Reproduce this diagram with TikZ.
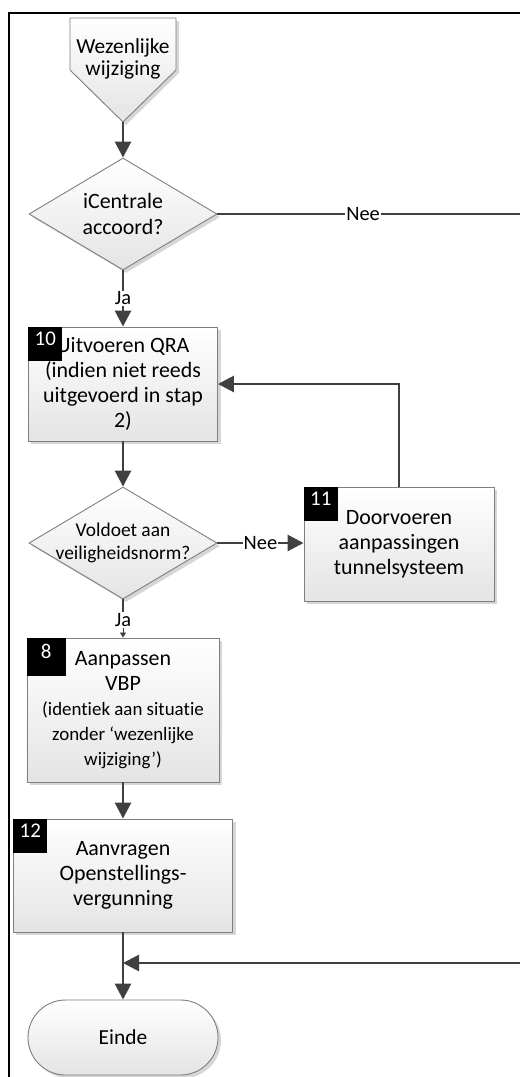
\documentclass[tikz,border=0pt]{standalone}
\usepackage{fontspec}
\setmainfont{Carlito}[Ligatures=NoCommon]
\usetikzlibrary{arrows.meta,shapes.geometric,shapes.misc,shadows}
\definecolor{conncol}{HTML}{404040}
\definecolor{bord}{HTML}{7F7F7F}
\definecolor{shadebot}{HTML}{E4E4E4}
\definecolor{shadcol}{HTML}{D6D6D6}
\newcommand{\smtxt}{\fontsize{19}{24}\selectfont}
\tikzset{
 base/.style={draw=bord, line width=0.9bp, top color=white, bottom color=shadebot,
   drop shadow={shadow xshift=3bp, shadow yshift=-3bp, fill=shadcol, opacity=1}},
 procbox/.style={base, rectangle, inner sep=0pt, align=center, font=\fontsize{22}{25}\selectfont},
 decision/.style={base, diamond, aspect=1.68, inner sep=0pt, minimum width=188bp, minimum height=112bp, align=center},
 numbox/.style={fill=black, text=white, anchor=north west, inner sep=0pt, minimum width=34bp, minimum height=34bp,
   font=\fontsize{21}{21}\selectfont, text height=8bp, text depth=5bp},
 conn/.style={draw=conncol, line width=2.8bp, -{Triangle[length=16bp,width=16bp]}},
 plainconn/.style={draw=conncol, line width=2.8bp},
 lbl/.style={fill=white, inner sep=1bp, font=\fontsize{20.5}{21}\selectfont, text=black},
}
\begin{document}
\begin{tikzpicture}[x=1bp,y=-1bp]
\useasboundingbox (0,0) rectangle (520,1077);
\fill[white] (0,0) rectangle (520,1077);
% frame
\draw[black, line width=2bp] (9,1080) -- (9,13) -- (523,13);
% start
\draw[base] (70,18) -- (176,18) -- (176,70) -- (123,122) -- (70,70) -- cycle;
\node[font=\fontsize{21.5}{22}\selectfont, align=center] (start) at (123,59) {Wezenlijke\\wijziging};
\coordinate (starttip) at (123,122);
% decisions
\node[decision, font=\fontsize{22}{26}\selectfont] (d1) at (123,214) {\makebox[80bp]{iCentrale}\\\makebox[80bp]{accoord?}};
\node[decision, font=\fontsize{19.5}{23}\selectfont] (d2) at (123,543) {\makebox[90bp]{Voldoet aan}\\\makebox[90bp]{veiligheidsnorm?}};
% boxes
\node[procbox, minimum width=189bp, minimum height=114bp] (b10) at (123,384) {Uitvoeren QRA\\(indien niet reeds\\uitgevoerd in stap\\2)};
\node[numbox] (n10) at (b10.north west) {10};
\node[procbox, minimum width=190bp, minimum height=114bp] (b11) at (399,544) {Doorvoeren\\aanpassingen\\tunnelsysteem};
\node[numbox] (n11) at (b11.north west) {11};
\node[procbox, minimum width=192bp, minimum height=144bp] (b8) at (123,710) {Aanpassen\\VBP\\\smtxt(identiek aan situatie\\\smtxt zonder ‘wezenlijke\\\smtxt wijziging’)};
\node[numbox, minimum width=39bp, minimum height=38bp] (n8) at (b8.north west) {8};
\node[procbox, minimum width=219bp, minimum height=113bp] (b12) at (123,875.5) {Aanvragen\\Openstellings-\\vergunning};
\node[numbox] (n12) at (b12.north west) {12};
\node[base, rounded rectangle, minimum width=190bp, minimum height=75bp, inner sep=0pt, font=\fontsize{21.5}{24}\selectfont] (einde) at (123,1037.5) {Einde};
% coordinates
\coordinate (offR1) at (524,214);
\coordinate (offR2) at (524,963);
\coordinate (join) at (123,963);
% connectors
\draw[conn] (starttip) -- (d1.north);
\draw[conn] (d1.south) -- node[lbl] {Ja} (b10.north);
\draw[plainconn] (d1.east) -- node[lbl, pos=0.475] {Nee} (offR1);
\draw[conn] (b10.south) -- (d2.north);
\draw[conn] (d2.east) -- node[lbl] {Nee} (b11.west |- d2.east);
\draw[conn] (b11.north) |- (b10.east);
\node[lbl] (ja2) at (123,620) {Ja};
\draw[plainconn] (d2.south) -- (ja2.north);
\draw[draw=conncol, line width=0.8bp, -{Triangle[length=5bp,width=6bp]}] (ja2.south) -- (b8.north);
\draw[conn] (b8.south) -- (b12.north);
\draw[conn] (b12.south) -- (einde.north);
\draw[conn] (offR2) -- (join);
\end{tikzpicture}
\end{document}
